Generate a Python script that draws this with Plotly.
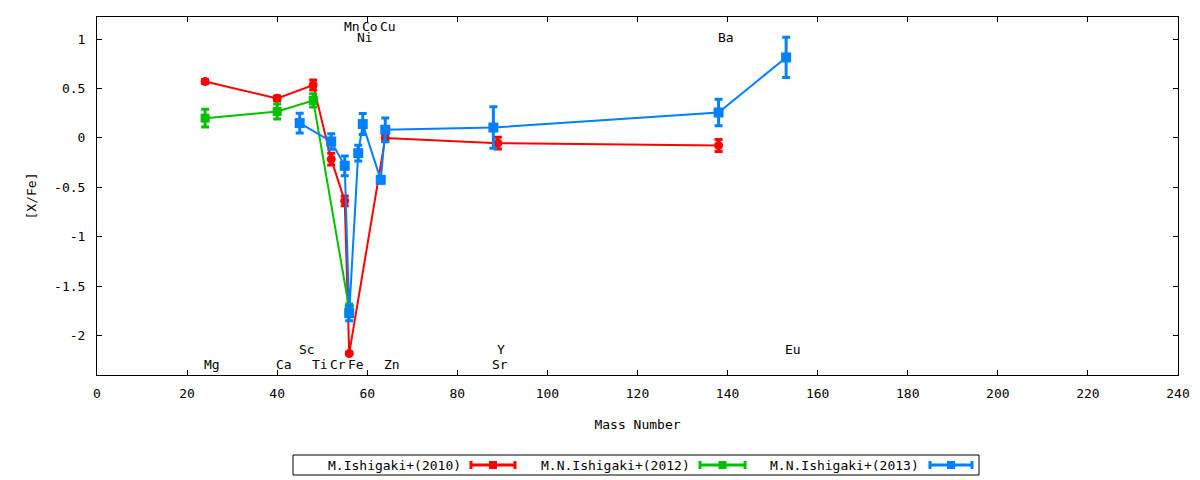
import plotly.graph_objects as go

# Mass number vs [X/Fe] for three papers
mass_2010 = [24, 40, 48, 52, 55, 56, 64, 89, 138]
xfe_2010 = [0.57, 0.40, 0.535, -0.215, -0.637, -2.18, 0.0, -0.053, -0.077]
err_2010 = [0.02, 0.025, 0.05, 0.06, 0.05, 0.01, 0.035, 0.06, 0.06]

mass_2012 = [24, 40, 48, 56]
xfe_2012 = [0.20, 0.267, 0.379, -1.73]
err_2012 = [0.09, 0.075, 0.067, 0.05]

mass_2013 = [45, 52, 55, 56, 58, 59, 63, 64, 88, 138, 153]
xfe_2013 = [0.15, -0.036, -0.282, -1.773, -0.154, 0.14, -0.424, 0.082, 0.105, 0.257, 0.814]
err_2013 = [0.1, 0.078, 0.1, 0.077, 0.08, 0.106, 0.03, 0.12, 0.21, 0.133, 0.204]

# element labels: name, mass, height
elem_names = ["Mg", "Ca", "Sc", "Ti", "Cr", "Mn", "Fe", "Co", "Ni", "Cu", "Zn", "Sr", "Y", "Ba", "Eu"]
elem_mass = [24, 40, 45, 48, 52, 55, 56, 59, 58, 63, 64, 88, 89, 138, 153]
elem_ypos = [-2.29, -2.29, -2.145, -2.29, -2.29, 1.125, -2.29, 1.125, 1.013, 1.125, -2.29, -2.29, -2.145, 1.013, -2.145]

series_names = ["M.Ishigaki+(2010)", "M.N.Ishigaki+(2012)", "M.N.Ishigaki+(2013)"]
colors = ["#ff0000", "#00c000", "#0080ff"]

y_tickvals = [-2, -1.5, -1, -0.5, 0, 0.5, 1]
y_ticktext = ["-2", "-1.5", "-1", "-0.5", "0", "0.5", "1"]

FONT = "DejaVu Sans Mono"

# page body has an 8px margin, so the figure sits at (8, 8) in the window
OFF = 8
FIG_W, FIG_H = 1200 - OFF, 480 - OFF
L, R, T, B = 97 - OFF, 22, 17 - OFF, 105
W = FIG_W - L - R
H = FIG_H - T - B


def px(x):
    # window pixel -> paper x
    return (x - OFF - L) / W


def py(y):
    # window pixel -> paper y
    return (FIG_H - B - (y - OFF)) / H


fig = go.Figure()

series = [
    (mass_2010, xfe_2010, err_2010, "circle", 9),
    (mass_2012, xfe_2012, err_2012, "square", 9),
    (mass_2013, xfe_2013, err_2013, "square", 10),
]
for (xs, ys, es, sym, size), name, col in zip(series, series_names, colors):
    fig.add_trace(go.Scatter(
        x=xs, y=ys,
        mode='lines+markers',
        name=name,
        line=dict(color=col, width=2),
        marker=dict(color=col, symbol=sym, size=size),
        error_y=dict(type='data', array=es, color=col, thickness=3, width=4),
        showlegend=False))

for name, m, yp in zip(elem_names, elem_mass, elem_ypos):
    fig.add_annotation(x=m, y=yp, text=name, showarrow=False,
                       xanchor='left', yanchor='middle', xshift=-3,
                       font=dict(family=FONT, size=13, color='black'))

# gnuplot style key below the plot
fig.add_shape(type='rect', xref='paper', yref='paper',
              x0=px(293), x1=px(979), y0=py(475), y1=py(455),
              line=dict(color='black', width=1), fillcolor='white')

key_text_right = [463, 692, 921]
key_sample = [(471, 515), (700, 745), (930, 972)]
for name, col, tr, (s0, s1) in zip(series_names, colors, key_text_right, key_sample):
    fig.add_annotation(xref='paper', yref='paper', x=px(tr), y=py(465),
                       text=name, showarrow=False, xanchor='right', yanchor='middle',
                       font=dict(family=FONT, size=13, color='black'))
    fig.add_shape(type='line', xref='paper', yref='paper',
                  x0=px(s0), x1=px(s1), y0=py(465), y1=py(465),
                  line=dict(color=col, width=3))
    for sx in (s0, s1):
        fig.add_shape(type='line', xref='paper', yref='paper',
                      x0=px(sx), x1=px(sx), y0=py(461), y1=py(469),
                      line=dict(color=col, width=3))
    mid = (s0 + s1) / 2
    fig.add_shape(type='rect', xref='paper', yref='paper',
                  x0=px(mid - 4), x1=px(mid + 4), y0=py(469), y1=py(461),
                  line=dict(color=col, width=0), fillcolor=col)

axis_common = dict(
    showline=True, linecolor='black', linewidth=1, mirror='allticks',
    ticks='inside', ticklen=5, tickcolor='black', tickwidth=1,
    showgrid=False, zeroline=False,
    tickfont=dict(family=FONT, size=13, color='black'),
)

fig.update_layout(
    width=FIG_W, height=FIG_H,
    margin=dict(l=L, r=R, t=T, b=B),
    plot_bgcolor='white', paper_bgcolor='white',
    font=dict(family=FONT, size=13, color='black'),
    xaxis=dict(range=[0, 240], tick0=0, dtick=20, ticklabelstandoff=6,
               title=dict(text='Mass Number', standoff=20,
                          font=dict(family=FONT, size=13, color='black')),
               **axis_common),
    yaxis=dict(range=[-2.398, 1.223], tickvals=y_tickvals, ticktext=y_ticktext,
               ticklabelstandoff=8,
               title=dict(text='[X/Fe]', standoff=14,
                          font=dict(family=FONT, size=13, color='black')),
               **axis_common),
    showlegend=False,
)

fig.write_html("out.html")
